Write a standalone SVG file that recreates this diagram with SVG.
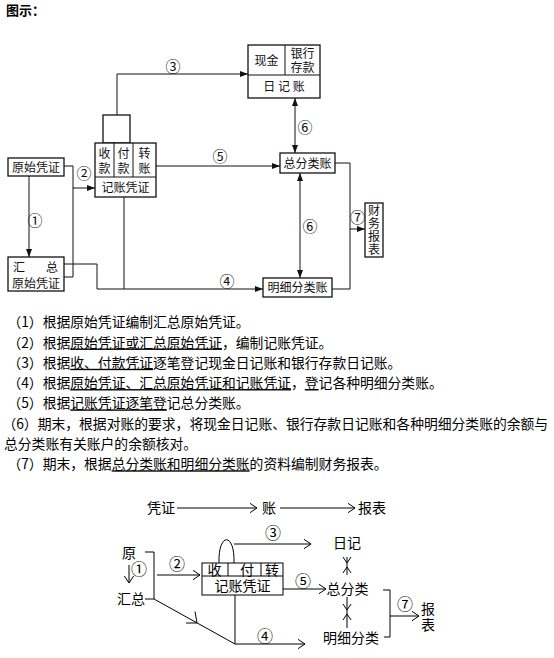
<svg xmlns="http://www.w3.org/2000/svg" width="554" height="658" viewBox="0 0 554 658">
<style>
text{font-family:"Noto Sans CJK SC","Noto Sans",sans-serif;fill:#000}
.t{font-size:12px;text-anchor:middle;fill:#111}
.v{font-size:12px;writing-mode:vertical-rl;letter-spacing:3px;fill:#111}
.c{font-size:15px;text-anchor:middle;fill:#111}
.p{font-size:13.8px}
.u{text-decoration:underline}
.b{font-size:14px}
.bm{font-size:14px;text-anchor:middle}
.bc{font-size:16px;text-anchor:middle}
.box{fill:#fff;stroke:#111;stroke-width:1.3}
.ln{fill:none;stroke:#111;stroke-width:1}
.bl{fill:none;stroke:#000;stroke-width:1}
</style>
<defs>
<marker id="ah" viewBox="0 0 8 6" refX="8" refY="3" markerWidth="8" markerHeight="6" markerUnits="userSpaceOnUse" orient="auto-start-reverse">
<path d="M0,0 L8,3 L0,6 Z" fill="#111"/>
</marker>
<marker id="ch" viewBox="0 0 8 10" refX="7.5" refY="5" markerWidth="8" markerHeight="10" markerUnits="userSpaceOnUse" orient="auto">
<path d="M0,0 L7.5,5 L0,10" fill="none" stroke="#000" stroke-width="1"/>
</marker>
</defs>

<text x="6" y="15" style="font-size:13px;font-weight:bold">图示：</text>

<!-- top diagram connectors -->
<g id="connectors">
<path class="ln" d="M29,176 V257" marker-end="url(#ah)"/>
<path class="ln" d="M64,166 H73 V277 H64"/>
<path class="ln" d="M73,188 H95" marker-end="url(#ah)"/>
<path class="ln" d="M117,115 V74 H248" marker-end="url(#ah)"/>
<path class="ln" d="M156,166 H280" marker-end="url(#ah)"/>
<path class="ln" d="M64,264 H97 V289 H263" marker-end="url(#ah)"/>
<path class="ln" d="M124,197 V289"/>
<path class="ln" d="M295,98 V153" marker-start="url(#ah)" marker-end="url(#ah)"/>
<path class="ln" d="M300,173 V278" marker-start="url(#ah)" marker-end="url(#ah)"/>
<path class="ln" d="M335,163 H350 V289 H332"/>
<path class="ln" d="M350,229 H365" marker-end="url(#ah)"/>
<text class="c" x="35" y="225.7">①</text>
<text class="c" x="84" y="178.7">②</text>
<text class="c" x="173" y="71.7">③</text>
<text class="c" x="227" y="286.7">④</text>
<text class="c" x="220" y="161.7">⑤</text>
<text class="c" x="305" y="132.7">⑥</text>
<text class="c" x="310" y="231.7">⑥</text>
<text class="c" x="357.5" y="222.7">⑦</text>
</g>

<g id="yuanshi">
<rect class="box" x="8" y="158" width="56" height="18"/>
<text class="t" x="36" y="171.6">原始凭证</text>
</g>

<g id="huizong">
<rect class="box" x="8" y="257" width="56" height="34"/>
<text class="t"><tspan x="19" y="271.6">汇</tspan><tspan x="52" y="271.6">总</tspan><tspan x="36" y="287.6">原始凭证</tspan></text>
</g>

<g id="jizhang">
<rect class="box" x="103" y="115" width="27" height="28"/>
<rect class="box" x="95" y="143" width="61" height="54"/>
<path class="ln" d="M95,177 H156 M114,143 V177 M133,143 V177"/>
<text class="v" x="104.5" y="147">收款</text>
<text class="v" x="123.5" y="147">付款</text>
<text class="v" x="144.5" y="147">转账</text>
<text class="t" x="125.5" y="191.6">记账凭证</text>
</g>

<g id="rijizhang">
<rect class="box" x="248" y="45" width="72" height="53"/>
<path class="ln" d="M248,75 H320 M285,45 V75"/>
<text class="t"><tspan x="266.5" y="64.6">现金</tspan><tspan x="302.5" y="57.6">银行</tspan><tspan x="302.5" y="71.6">存款</tspan><tspan x="284" y="90.6">日 记 账</tspan></text>
</g>

<g id="zongfenlei">
<rect class="box" x="280" y="153" width="55" height="20"/>
<text class="t" x="307.5" y="167.6">总分类账</text>
</g>

<g id="mingxi">
<rect class="box" x="263" y="278" width="69" height="19"/>
<text class="t" x="297.5" y="292.1">明细分类账</text>
</g>

<g id="baobiao">
<rect class="box" x="365" y="203" width="18" height="54"/>
<text x="374" y="204" style="font-size:12px;writing-mode:vertical-rl;letter-spacing:1px;fill:#111">财务报表</text>
</g>

<!-- explanatory text -->
<g id="notes">
<text class="p" x="7.4" y="327.2">（1）根据原始凭证编制汇总原始凭证。</text>
<text class="p" x="7.4" y="347.5">（2）根据<tspan class="u">原始凭证或汇总原始凭证</tspan>，编制记账凭证。</text>
<text class="p" x="7.4" y="367.8">（3）根据<tspan class="u">收、付款凭证</tspan>逐笔登记现金日记账和银行存款日记账。</text>
<text class="p" x="7.4" y="388.1">（4）根据<tspan class="u">原始凭证、汇总原始凭证和记账凭证</tspan>，<tspan class="u">登</tspan>记各种明细分类账。</text>
<text class="p" x="7.4" y="408.4">（5）根据<tspan class="u">记账凭证逐笔登</tspan>记总分类账。</text>
<text class="p" x="2.4" y="428.7">（6）期末，根据对账的要求，将现金日记账、银行存款日记账和各种明细分类账的余额与</text>
<text class="p" x="4" y="449">总分类账有关账户的余额核对。</text>
<text class="p" x="7.4" y="469.3">（7）期末，根据<tspan class="u">总分类账和明细分类账</tspan>的资料编制财务报表。</text>
</g>

<!-- bottom diagram -->
<g id="b-flow">
<text class="b" x="147" y="513.3">凭证</text>
<text class="b" x="262" y="513.3">账</text>
<text class="b" x="358" y="513.3">报表</text>
</g>
<g id="b-yuan">
<text class="b" x="122" y="558.3">原</text>
</g>
<g id="b-huizong">
<text class="b" x="117" y="604.3">汇总</text>
</g>
<g id="b-jizhang">
<rect class="bl" x="202" y="563" width="81" height="32"/>
<path class="bl" d="M202,576 H283 M228,563 V576 M261,563 V576"/>
<path class="bl" d="M219,563 C218,532 235,532 234,563"/>
<text class="bm"><tspan x="214.5" y="574.8">收</tspan><tspan x="247" y="574.8">付</tspan><tspan x="272" y="574.8">转</tspan><tspan x="242.5" y="591.3">记账凭证</tspan></text>
</g>
<g id="b-riji">
<text class="bm" x="347" y="548.3">日记</text>
</g>
<g id="b-zong">
<text class="bm" x="347.5" y="594.3">总分类</text>
</g>
<g id="b-mingxi">
<text class="bm" x="351" y="643.3">明细分类</text>
</g>
<g id="b-baobiao">
<text x="428" y="602" style="font-size:14px;writing-mode:vertical-rl;letter-spacing:2px">报表</text>
</g>
<g id="b-connectors">
<path class="bl" d="M177,508 H257" marker-end="url(#ch)"/>
<path class="bl" d="M280,508 H355" marker-end="url(#ch)"/>
<path class="bl" d="M129,565 V583" marker-end="url(#ch)"/>
<path class="bl" d="M145,552 H154 V599 H145"/>
<path class="bl" d="M157,575 H200" marker-end="url(#ch)"/>
<path class="bl" d="M234,544 H311" marker-end="url(#ch)"/>
<path class="bl" d="M154,599 L235,644 H305" marker-end="url(#ch)"/>
<path class="bl" d="M195,611.5 L197,623 L186,623"/>
<path class="bl" d="M235,595 V644"/>
<path class="bl" d="M283,589 H326" marker-end="url(#ch)"/>
<path class="bl" d="M347,557 V575 M343,557 L347,563 L351,557 M343,573 L347,567 L351,573"/>
<path class="bl" d="M347,597 V628 M343,604 L347,610 L351,604 M343,620 L347,614 L351,620"/>
<path class="bl" d="M383,590 H390 V637 H384"/>
<path class="bl" d="M390,616 H419" marker-end="url(#ch)"/>
<text class="bc" x="139" y="575">①</text>
<text class="bc" x="177" y="570">②</text>
<text class="bc" x="273" y="539">③</text>
<text class="bc" x="265" y="642">④</text>
<text class="bc" x="303" y="587">⑤</text>
<text class="bc" x="405" y="610">⑦</text>
</g>
</svg>
